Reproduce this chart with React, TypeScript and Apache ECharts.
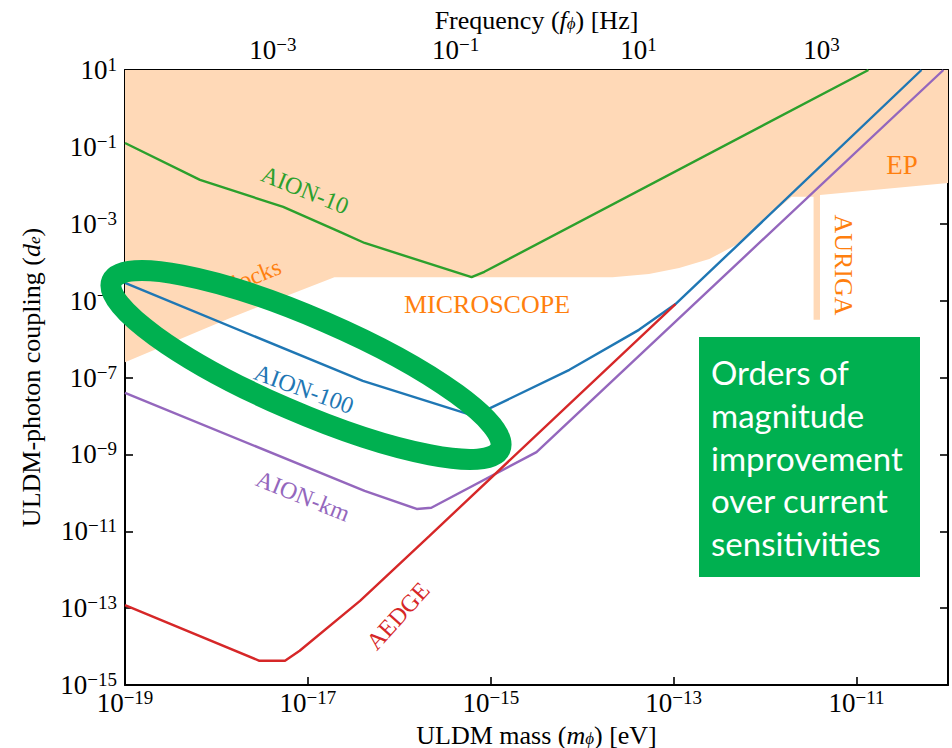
import React, { useEffect, useRef } from "react";
import * as echarts from "echarts";

// ---- data (log10 values: mass in eV, coupling d_e) ----
const massTicks = [-19, -17, -15, -13, -11];
const couplingTicks = [-15, -13, -11, -9, -7, -5, -3, -1, 1];
const freqTicks = [-3, -1, 1, 3];
const LOG10_HZ_PER_EV = 14.3835;

const aion10LogMass = [-19.0, -18.18, -17.27, -16.65, -16.38, -15.21, -15.07, -10.87];
const aion10LogCoupling = [-0.9, -1.86, -2.56, -3.21, -3.5, -4.39, -4.25, 1.0];

const aion100LogMass = [-19.0, -16.4, -15.21, -15.07, -14.14, -13.38, -12.98, -12.32, -10.29];
const aion100LogCoupling = [-4.54, -7.09, -7.98, -7.87, -6.8, -5.76, -5.09, -3.6, 1.0];

const aionKmLogMass = [-19.0, -16.38, -15.81, -15.65, -14.5, -10.05];
const aionKmLogCoupling = [-7.4, -9.95, -10.42, -10.39, -8.94, 1.0];

const aedgeLogMass = [-19.0, -17.53, -17.25, -17.09, -16.43, -15.67, -12.98];
const aedgeLogCoupling = [-12.92, -14.37, -14.37, -14.11, -12.81, -11.12, -5.09];

const excludedLogMass = [-19.0, -17.85, -16.71, -13.67, -13.27, -12.94, -12.61, -12.32, -11.71, -11.47, -11.47, -11.4, -11.4, -10.0];
const excludedLogCoupling = [-6.6, -5.45, -4.39, -4.39, -4.31, -4.15, -3.92, -3.55, -2.3, -2.3, -5.5, -5.5, -2.25, -1.94];

const SERIF = '"Liberation Serif", "DejaVu Serif", serif';
const GREEN = "#2ca02c";
const BLUE = "#1f77b4";
const PURPLE = "#9467bd";
const RED = "#d62728";
const ORANGE = "#ff7f0e";
const PEACH = "#ffd9b7";
const OFFICE_GREEN = "#00b050";

const zip = (xs: number[], ys: number[]) => xs.map((x, i) => [x, ys[i]]);
const rad = (d: number) => (d * Math.PI) / 180;

const powLabel = (v: number) => `{b|10}{s|${v < 0 ? "\u2212" : ""}${Math.abs(Math.round(v))}}`;
const powRich = {
  b: { fontSize: 27, lineHeight: 30, verticalAlign: "middle", fontFamily: SERIF, color: "#000" },
  s: { fontSize: 19, lineHeight: 12, verticalAlign: "top", fontFamily: SERIF, color: "#000" },
};
const nameRich = {
  t: { fontSize: 26, lineHeight: 24, verticalAlign: "middle", fontFamily: SERIF, color: "#000" },
  i: { fontSize: 26, lineHeight: 24, verticalAlign: "middle", fontFamily: SERIF, fontStyle: "italic", color: "#000" },
  s: { fontSize: 17, lineHeight: 14, verticalAlign: "bottom", fontFamily: SERIF, fontStyle: "italic", color: "#000" },
};

const axisLine = { show: true, onZero: false, lineStyle: { color: "#000", width: 2 } };
const tick = (vals: number[]) => ({
  show: true,
  inside: true,
  length: 8,
  customValues: vals,
  lineStyle: { color: "#000", width: 1.6 },
});

const lineSeries = (name: string, xs: number[], ys: number[], color: string) => ({
  name,
  type: "line",
  data: zip(xs, ys),
  showSymbol: false,
  symbol: "none",
  lineStyle: { color, width: 2.4 },
  z: 3,
  silent: true,
});

const labelText = (text: string, x: number, y: number, deg: number, color: string, size = 24) => ({
  type: "text",
  x,
  y,
  rotation: rad(deg),
  z: 50,
  style: { text, fill: color, fontSize: size, fontFamily: SERIF, align: "center", verticalAlign: "middle" },
});

export default function App() {
  const ref = useRef<HTMLDivElement>(null);
  useEffect(() => {
    document.body.style.margin = "0";
    const chart = echarts.init(ref.current!, null, { renderer: "svg" });
    const option: any = {
      animation: false,
      backgroundColor: "#fff",
      grid: { left: 125, right: 4, top: 70, bottom: 63, containLabel: false, outerBoundsMode: "none" },
      xAxis: [
        {
          type: "value",
          position: "bottom",
          min: -19,
          max: -10,
          axisLine,
          axisTick: tick(massTicks),
          axisLabel: { customValues: massTicks, formatter: powLabel, margin: 3, rich: powRich, color: "#000", fontFamily: SERIF },
          splitLine: { show: false },
          name: "{t|ULDM mass (}{i|m}{s|\u03d5}{t|) [eV]}",
          nameLocation: "middle",
          nameGap: 38,
          nameMoveOverlap: false,
          nameTextStyle: { rich: nameRich, fontFamily: SERIF, fontSize: 26, color: "#000" },
        },
        {
          type: "value",
          position: "top",
          min: -19 + LOG10_HZ_PER_EV,
          max: -10 + LOG10_HZ_PER_EV,
          axisLine,
          axisTick: tick(freqTicks),
          axisLabel: { customValues: freqTicks, formatter: powLabel, margin: 5, rich: powRich, color: "#000", fontFamily: SERIF },
          splitLine: { show: false },
          name: "{t|Frequency (}{i|f}{s|\u03d5}{t|) [Hz]}",
          nameLocation: "middle",
          nameGap: 38,
          nameMoveOverlap: false,
          nameTextStyle: { rich: nameRich, fontFamily: SERIF, fontSize: 26, color: "#000" },
        },
      ],
      yAxis: [
        {
          type: "value",
          position: "left",
          min: -15,
          max: 1,
          axisLine,
          axisTick: tick(couplingTicks),
          axisLabel: { customValues: couplingTicks, formatter: powLabel, margin: 8, rich: powRich, color: "#000", fontFamily: SERIF },
          splitLine: { show: false },
          name: "{t|ULDM-photon coupling (}{i|d}{s|e}{t|)}",
          nameLocation: "middle",
          nameGap: 82,
          nameRotate: 90,
          nameMoveOverlap: false,
          nameTextStyle: { rich: nameRich, fontFamily: SERIF, fontSize: 26, color: "#000" },
        },
        {
          type: "value",
          position: "right",
          min: -15,
          max: 1,
          axisLine,
          axisTick: tick(couplingTicks),
          axisLabel: { show: false },
          splitLine: { show: false },
        },
      ],
      series: [
        {
          name: "excluded",
          type: "line",
          data: zip(excludedLogMass, excludedLogCoupling),
          showSymbol: false,
          symbol: "none",
          lineStyle: { width: 0, color: PEACH },
          areaStyle: { color: PEACH, opacity: 1, origin: "end" },
          z: 1,
          silent: true,
        },
        lineSeries("AION-10", aion10LogMass, aion10LogCoupling, GREEN),
        lineSeries("AION-100", aion100LogMass, aion100LogCoupling, BLUE),
        lineSeries("AION-km", aionKmLogMass, aionKmLogCoupling, PURPLE),
        lineSeries("AEDGE", aedgeLogMass, aedgeLogCoupling, RED),
      ],
      graphic: [
        labelText("AION-10", 305, 190, -22, GREEN),
        labelText("Clocks", 249, 278, 22, ORANGE),
        labelText("MICROSCOPE", 487, 304, 0, ORANGE, 26),
        labelText("AION-100", 304, 389, -20, BLUE),
        labelText("AION-km", 303, 496, -22, PURPLE),
        labelText("AEDGE", 398, 616, 48, RED),
        labelText("EP", 902, 165, 0, ORANGE, 27),
        labelText("AURIGA", 843, 265, -90, ORANGE, 26),
        {
          type: "ellipse",
          x: 306,
          y: 365,
          rotation: rad(-23.4),
          z: 60,
          shape: { cx: 0, cy: 0, rx: 211.5, ry: 47 },
          style: { fill: "none", stroke: OFFICE_GREEN, lineWidth: 21 },
        },
        {
          type: "rect",
          z: 60,
          shape: { x: 699, y: 337, width: 221, height: 240 },
          style: { fill: OFFICE_GREEN },
        },
        {
          type: "text",
          x: 711,
          y: 351,
          z: 61,
          style: {
            text: "Orders of\nmagnitude\nimprovement\nover current\nsensitivities",
            fill: "#fff",
            fontSize: 33,
            fontFamily: "Lato, 'Open Sans', sans-serif",
            lineHeight: 42.7,
            align: "left",
            verticalAlign: "top",
          },
        },
      ],
    };
    chart.setOption(option);
    return () => chart.dispose();
  }, []);
  return <div ref={ref} style={{ position: "absolute", left: 0, top: 0, width: 952, height: 748 }} />;
}
